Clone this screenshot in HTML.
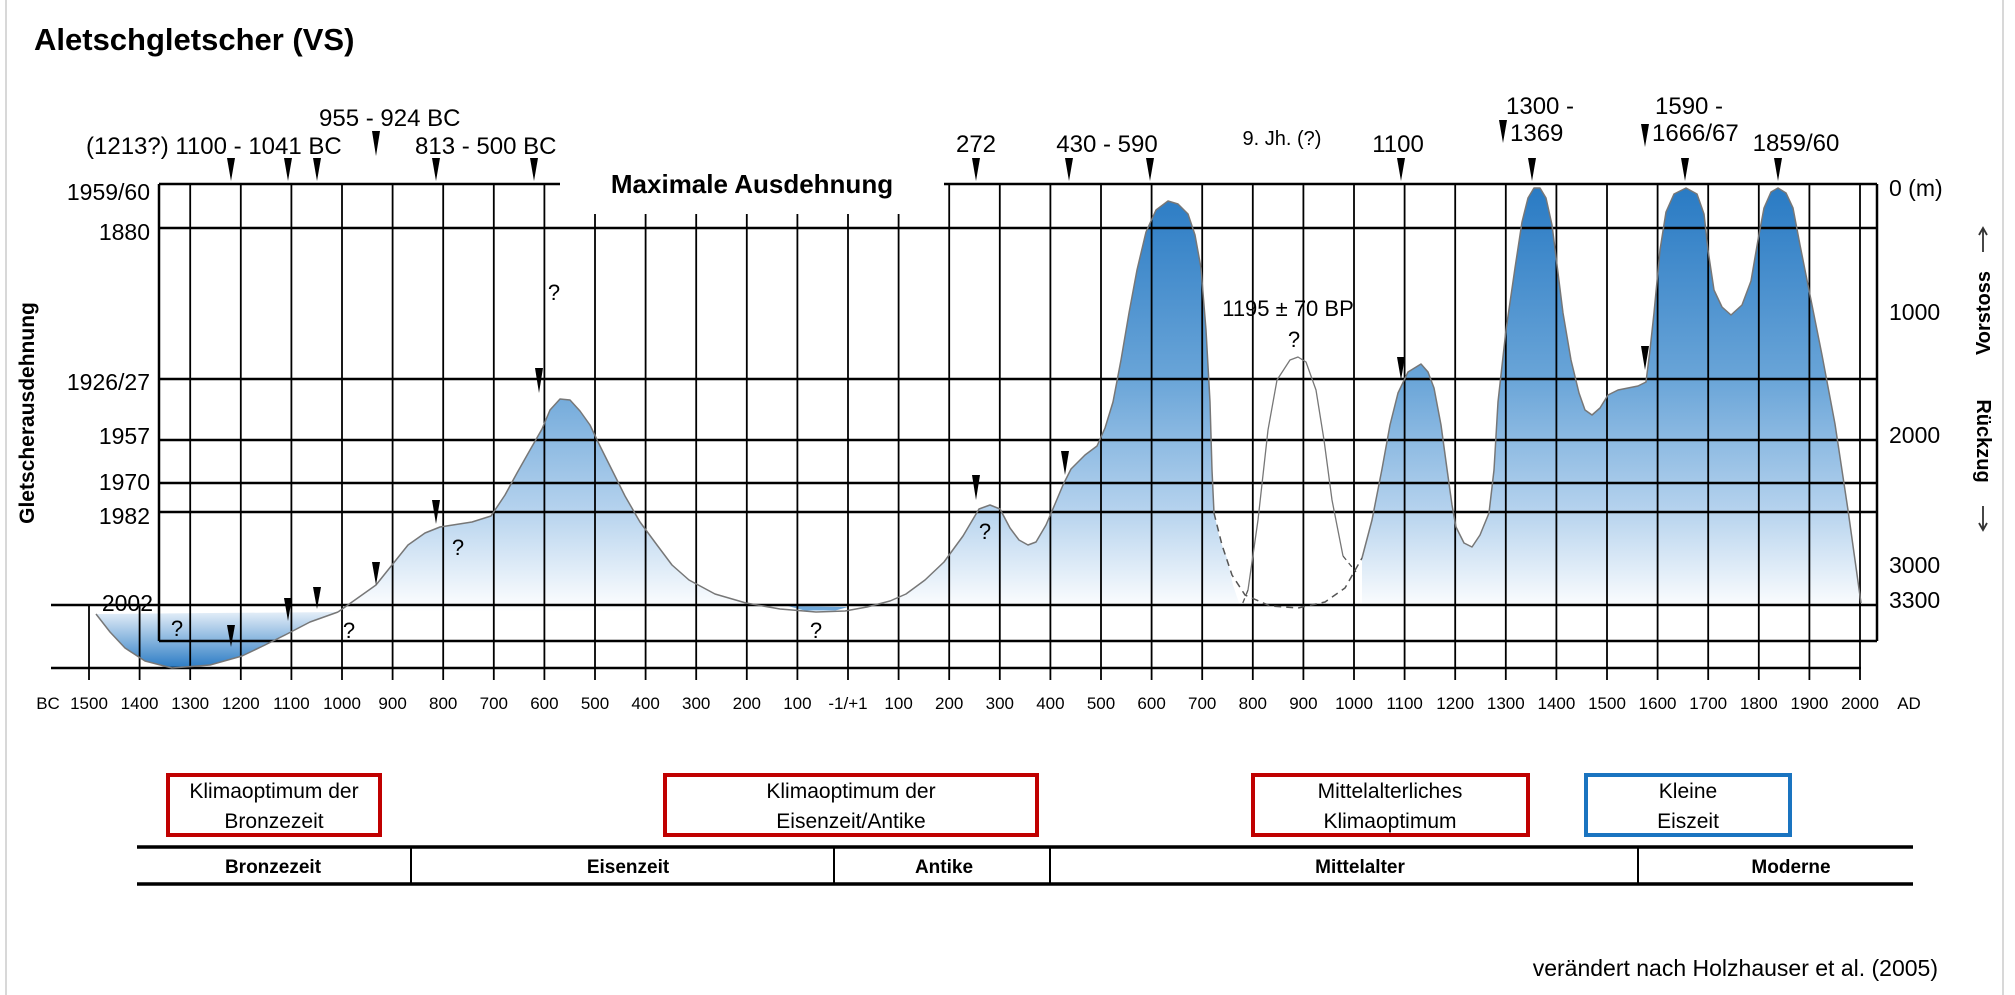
<!DOCTYPE html>
<html><head><meta charset="utf-8"><style>
html,body{margin:0;padding:0;background:#fff;}
svg{display:block;}
text{font-family:"Liberation Sans",Arial,sans-serif;fill:#000;}
</style></head><body>
<svg width="2015" height="995" viewBox="0 0 2015 995" xmlns="http://www.w3.org/2000/svg">
<defs>
<linearGradient id="g" gradientUnits="userSpaceOnUse" x1="0" y1="190" x2="0" y2="612">
<stop offset="0" stop-color="#2a7bc4"/>
<stop offset="0.45" stop-color="#6aa5d8"/>
<stop offset="0.75" stop-color="#b3d1ed"/>
<stop offset="1" stop-color="#ffffff"/>
</linearGradient>
<linearGradient id="g2" gradientUnits="userSpaceOnUse" x1="0" y1="612" x2="0" y2="668">
<stop offset="0" stop-color="#e4eef8"/>
<stop offset="1" stop-color="#2a7bc4"/>
</linearGradient>
</defs>
<line x1="6" y1="0" x2="6" y2="995" stroke="#ccc" stroke-width="1.5"/>
<line x1="2003" y1="0" x2="2003" y2="995" stroke="#ccc" stroke-width="1.5"/>

<text x="34" y="50" font-size="31" font-weight="bold">Aletschgletscher (VS)</text>

<path d="M96,614 L110,632 L125,648 L145,661 L172,668 L210,665 L242,656 L265,645 L287,634 L310,622 L338,612 Z" fill="url(#g2)"/>
<path d="M788,606 L810,612 L830,612 L848,607 Z" fill="#6fa8da"/>
<path d="M338,612 L376,585 L392,565 L408,545 L425,533 L440,527 L472,522 L491,516 L505,495 L517,473 L530,450 L542,429 L550,410 L560,399 L570,400 L580,411 L590,425 L600,446 L612,470 L625,496 L640,522 L657,545 L672,565 L689,580 L715,594 L746,603 L780,609 L816,612 L845,611 L867,607 L890,601 L906,594 L925,580 L944,562 L963,536 L979,509 L990,505 L1000,509 L1010,528 L1019,540 L1028,545 L1036,542 L1046,525 L1055,504 L1063,485 L1071,469 L1085,455 L1097,446 L1105,428 L1113,402 L1121,360 L1129,313 L1137,270 L1146,232 L1156,210 L1168,201 L1178,204 L1188,214 L1195,235 L1201,268 L1206,330 L1210,402 L1212,470 L1214,513 L1220,540 L1227,558 L1233,585 L1239,603 L1362,603 L1362,558 L1372,520 L1382,469 L1390,425 L1398,393 L1408,372 L1421,364 L1428,372 L1434,388 L1441,425 L1447,469 L1452,505 L1456,527 L1464,543 L1472,547 L1480,535 L1489,513 L1494,470 L1498,402 L1506,330 L1515,268 L1522,222 L1528,198 L1534,188 L1540,188 L1546,198 L1552,225 L1563,313 L1571,360 L1579,393 L1585,410 L1592,415 L1600,408 L1608,395 L1618,390 L1628,388 L1638,386 L1646,382 L1650,350 L1654,313 L1660,250 L1666,212 L1674,194 L1686,188 L1697,194 L1704,214 L1708,250 L1714,290 L1722,307 L1731,315 L1742,305 L1751,281 L1758,240 L1764,208 L1771,192 L1778,188 L1786,193 L1793,208 L1800,245 L1809,290 L1822,355 L1835,424 L1848,510 L1861,603 L1861,607 L338,612 Z" fill="url(#g)"/>

<g stroke="#000" stroke-width="2.5">
<line x1="159" y1="184" x2="560" y2="184"/><line x1="944" y1="184" x2="1877" y2="184"/>
<line x1="159" y1="228" x2="1877" y2="228"/>
<line x1="159" y1="379" x2="1877" y2="379"/>
<line x1="159" y1="440" x2="1877" y2="440"/>
<line x1="159" y1="483" x2="1877" y2="483"/>
<line x1="159" y1="512" x2="1877" y2="512"/>
<line x1="51" y1="605" x2="1877" y2="605"/>
<line x1="159" y1="641" x2="1877" y2="641"/>
<line x1="51" y1="668" x2="1861" y2="668"/>
<line x1="159" y1="184" x2="159" y2="641"/>
<line x1="1877" y1="184" x2="1877" y2="641"/>
</g>
<g stroke="#000" stroke-width="1.8">
<line x1="89" y1="605" x2="89" y2="680"/>
<line x1="139.6" y1="605" x2="139.6" y2="680"/>
<line x1="190.2" y1="184" x2="190.2" y2="680"/>
<line x1="240.8" y1="184" x2="240.8" y2="680"/>
<line x1="291.4" y1="184" x2="291.4" y2="680"/>
<line x1="342" y1="184" x2="342" y2="680"/>
<line x1="392.6" y1="184" x2="392.6" y2="680"/>
<line x1="443.2" y1="184" x2="443.2" y2="680"/>
<line x1="493.8" y1="184" x2="493.8" y2="680"/>
<line x1="544.4" y1="184" x2="544.4" y2="680"/>
<line x1="595" y1="214" x2="595" y2="680"/>
<line x1="645.6" y1="214" x2="645.6" y2="680"/>
<line x1="696.2" y1="214" x2="696.2" y2="680"/>
<line x1="746.8" y1="214" x2="746.8" y2="680"/>
<line x1="797.4" y1="214" x2="797.4" y2="680"/>
<line x1="848" y1="214" x2="848" y2="680"/>
<line x1="898.6" y1="214" x2="898.6" y2="680"/>
<line x1="949.2" y1="184" x2="949.2" y2="680"/>
<line x1="999.8" y1="184" x2="999.8" y2="680"/>
<line x1="1050.4" y1="184" x2="1050.4" y2="680"/>
<line x1="1101" y1="184" x2="1101" y2="680"/>
<line x1="1151.6" y1="184" x2="1151.6" y2="680"/>
<line x1="1202.2" y1="184" x2="1202.2" y2="680"/>
<line x1="1252.8" y1="184" x2="1252.8" y2="680"/>
<line x1="1303.4" y1="184" x2="1303.4" y2="680"/>
<line x1="1354" y1="184" x2="1354" y2="680"/>
<line x1="1404.6" y1="184" x2="1404.6" y2="680"/>
<line x1="1455.2" y1="184" x2="1455.2" y2="680"/>
<line x1="1505.8" y1="184" x2="1505.8" y2="680"/>
<line x1="1556.4" y1="184" x2="1556.4" y2="680"/>
<line x1="1607" y1="184" x2="1607" y2="680"/>
<line x1="1657.6" y1="184" x2="1657.6" y2="680"/>
<line x1="1708.2" y1="184" x2="1708.2" y2="680"/>
<line x1="1758.8" y1="184" x2="1758.8" y2="680"/>
<line x1="1809.4" y1="184" x2="1809.4" y2="680"/>
<line x1="1860" y1="184" x2="1860" y2="680"/>
</g>

<g fill="none" stroke="#777" stroke-width="1.5" stroke-linejoin="round">
<path d="M96,614 L110,632 L125,648 L145,661 L172,668 L210,665 L242,656 L265,645 L287,634 L310,622 L338,612"/>
<path d="M338,612 L376,585 L392,565 L408,545 L425,533 L440,527 L472,522 L491,516 L505,495 L517,473 L530,450 L542,429 L550,410 L560,399 L570,400 L580,411 L590,425 L600,446 L612,470 L625,496 L640,522 L657,545 L672,565 L689,580 L715,594 L746,603 L780,609 L816,612 L845,611 L867,607 L890,601 L906,594 L925,580 L944,562 L963,536 L979,509 L990,505 L1000,509 L1010,528 L1019,540 L1028,545 L1036,542 L1046,525 L1055,504 L1063,485 L1071,469 L1085,455 L1097,446 L1105,428 L1113,402 L1121,360 L1129,313 L1137,270 L1146,232 L1156,210 L1168,201 L1178,204 L1188,214 L1195,235 L1201,268 L1206,330 L1210,402 L1212,470 L1214,513"/>
<path d="M1362,558 L1372,520 L1382,469 L1390,425 L1398,393 L1408,372 L1421,364 L1428,372 L1434,388 L1441,425 L1447,469 L1452,505 L1456,527 L1464,543 L1472,547 L1480,535 L1489,513 L1494,470 L1498,402 L1506,330 L1515,268 L1522,222 L1528,198 L1534,188 L1540,188 L1546,198 L1552,225 L1563,313 L1571,360 L1579,393 L1585,410 L1592,415 L1600,408 L1608,395 L1618,390 L1628,388 L1638,386 L1646,382 L1650,350 L1654,313 L1660,250 L1666,212 L1674,194 L1686,188 L1697,194 L1704,214 L1708,250 L1714,290 L1722,307 L1731,315 L1742,305 L1751,281 L1758,240 L1764,208 L1771,192 L1778,188 L1786,193 L1793,208 L1800,245 L1809,290 L1822,355 L1835,424 L1848,510 L1861,603"/>
<path d="M1248,590 L1258,520 L1268,430 L1277,380 L1290,360 L1298,357 L1306,362 L1316,390 L1324,440 L1332,500 L1343,556" stroke-width="1.3"/>
</g>
<path d="M1214,513 L1222,545 L1232,575 L1245,595 L1270,606 L1298,608 L1325,602 L1345,588 L1362,558" fill="none" stroke="#555" stroke-width="1.5" stroke-dasharray="7,5"/>
<path d="M1248,590 L1242,605 M1343,556 L1356,572" fill="none" stroke="#555" stroke-width="1.3" stroke-dasharray="5,4"/>

<g fill="#000">
<path d="M227,158 L235,158 L231,181 Z"/><path d="M284,158 L292,158 L288,181 Z"/><path d="M313,158 L321,158 L317,181 Z"/>
<path d="M372,131 L380,131 L376,156 Z"/><path d="M432,158 L440,158 L436,181 Z"/><path d="M530,158 L538,158 L534,181 Z"/>
<path d="M972,158 L980,158 L976,181 Z"/><path d="M1065,158 L1073,158 L1069,181 Z"/><path d="M1146,158 L1154,158 L1150,181 Z"/>
<path d="M1397,158 L1405,158 L1401,181 Z"/><path d="M1499,120 L1507,120 L1503,143 Z"/><path d="M1528,158 L1536,158 L1532,181 Z"/>
<path d="M1641,124 L1649,124 L1645,147 Z"/><path d="M1681,158 L1689,158 L1685,181 Z"/><path d="M1774,158 L1782,158 L1778,181 Z"/>
<path d="M227,625 L235,625 L231,647 Z"/><path d="M284,598 L292,598 L288,621 Z"/><path d="M313,587 L321,587 L317,609 Z"/>
<path d="M372,562 L380,562 L376,585 Z"/><path d="M432,500 L440,500 L436,524 Z"/><path d="M535,368 L543,368 L539,393 Z"/>
<path d="M972,475 L980,475 L976,500 Z"/><path d="M1061,451 L1069,451 L1065,475 Z"/><path d="M1397,357 L1405,357 L1401,380 Z"/>
<path d="M1641,346 L1649,346 L1645,370 Z"/>
</g>

<g font-size="24">
<text x="86" y="154">(1213?) 1100 - 1041 BC</text>
<text x="319" y="126">955 - 924 BC</text>
<text x="415" y="154">813 - 500 BC</text>
<text x="976" y="152" text-anchor="middle">272</text>
<text x="1107" y="152" text-anchor="middle">430 - 590</text>
<text x="1398" y="152" text-anchor="middle">1100</text>
<text x="1506" y="114">1300 -</text>
<text x="1510" y="141">1369</text>
<text x="1655" y="114">1590 -</text>
<text x="1652" y="141">1666/67</text>
<text x="1796" y="151" text-anchor="middle">1859/60</text>
</g>
<text x="1282" y="145" font-size="20" text-anchor="middle">9. Jh. (?)</text>
<text x="752" y="193" font-size="26" font-weight="bold" text-anchor="middle">Maximale Ausdehnung</text>
<text x="1288" y="316" font-size="22" text-anchor="middle">1195 ± 70 BP</text>

<g font-size="22" text-anchor="middle">
<text x="177" y="636">?</text><text x="349" y="638">?</text><text x="458" y="555">?</text>
<text x="554" y="300">?</text><text x="816" y="638">?</text><text x="985" y="539">?</text>
<text x="1294" y="347">?</text>
</g>

<g font-size="23" text-anchor="end">
<text x="150" y="200">1959/60</text>
<text x="150" y="240">1880</text>
<text x="150" y="390">1926/27</text>
<text x="150" y="444">1957</text>
<text x="150" y="490">1970</text>
<text x="150" y="524">1982</text>
<text x="153" y="611">2002</text>
</g>
<g font-size="23">
<text x="1889" y="196">0 (m)</text>
<text x="1889" y="320">1000</text>
<text x="1889" y="443">2000</text>
<text x="1889" y="573">3000</text>
<text x="1889" y="608">3300</text>
</g>
<text transform="translate(34,413) rotate(-90)" font-size="21" font-weight="bold" text-anchor="middle">Gletscherausdehnung</text>
<text transform="translate(1990,313) rotate(-90)" font-size="20" font-weight="bold" text-anchor="middle">Vorstoss</text>
<text transform="translate(1977,441) rotate(90)" font-size="20" font-weight="bold" text-anchor="middle">Rückzug</text>
<g stroke="#333" stroke-width="1.8" fill="none">
<line x1="1983" y1="229" x2="1983" y2="252"/>
<path d="M1979,235 L1983,228 L1987,235"/>
<line x1="1983" y1="506" x2="1983" y2="529"/>
<path d="M1979,523 L1983,530 L1987,523"/>
</g>

<g font-size="17" text-anchor="middle">
<text x="48" y="709">BC</text>
<text x="89" y="709">1500</text><text x="139.6" y="709">1400</text><text x="190.2" y="709">1300</text><text x="240.8" y="709">1200</text>
<text x="291.4" y="709">1100</text><text x="342" y="709">1000</text><text x="392.6" y="709">900</text><text x="443.2" y="709">800</text>
<text x="493.8" y="709">700</text><text x="544.4" y="709">600</text><text x="595" y="709">500</text><text x="645.6" y="709">400</text>
<text x="696.2" y="709">300</text><text x="746.8" y="709">200</text><text x="797.4" y="709">100</text><text x="848" y="709">-1/+1</text>
<text x="898.6" y="709">100</text><text x="949.2" y="709">200</text><text x="999.8" y="709">300</text><text x="1050.4" y="709">400</text>
<text x="1101" y="709">500</text><text x="1151.6" y="709">600</text><text x="1202.2" y="709">700</text><text x="1252.8" y="709">800</text>
<text x="1303.4" y="709">900</text><text x="1354" y="709">1000</text><text x="1404.6" y="709">1100</text><text x="1455.2" y="709">1200</text>
<text x="1505.8" y="709">1300</text><text x="1556.4" y="709">1400</text><text x="1607" y="709">1500</text><text x="1657.6" y="709">1600</text>
<text x="1708.2" y="709">1700</text><text x="1758.8" y="709">1800</text><text x="1809.4" y="709">1900</text><text x="1860" y="709">2000</text>
<text x="1909" y="709">AD</text>
</g>

<g fill="none" stroke-width="4">
<rect x="168" y="775" width="212" height="60" stroke="#c00000"/>
<rect x="665" y="775" width="372" height="60" stroke="#c00000"/>
<rect x="1253" y="775" width="275" height="60" stroke="#c00000"/>
<rect x="1586" y="775" width="204" height="60" stroke="#1a74c0"/>
</g>
<g font-size="21" text-anchor="middle">
<text x="274" y="798">Klimaoptimum der</text><text x="274" y="828">Bronzezeit</text>
<text x="851" y="798">Klimaoptimum der</text><text x="851" y="828">Eisenzeit/Antike</text>
<text x="1390" y="798">Mittelalterliches</text><text x="1390" y="828">Klimaoptimum</text>
<text x="1688" y="798">Kleine</text><text x="1688" y="828">Eiszeit</text>
</g>

<g stroke="#000">
<line x1="137" y1="847" x2="1913" y2="847" stroke-width="3.5"/>
<line x1="137" y1="884" x2="1913" y2="884" stroke-width="3.5"/>
<line x1="411" y1="847" x2="411" y2="884" stroke-width="2"/>
<line x1="834" y1="847" x2="834" y2="884" stroke-width="2"/>
<line x1="1050" y1="847" x2="1050" y2="884" stroke-width="2"/>
<line x1="1638" y1="847" x2="1638" y2="884" stroke-width="2"/>
</g>
<g font-size="19" font-weight="bold" text-anchor="middle">
<text x="273" y="873">Bronzezeit</text>
<text x="628" y="873">Eisenzeit</text>
<text x="944" y="873">Antike</text>
<text x="1360" y="873">Mittelalter</text>
<text x="1791" y="873">Moderne</text>
</g>

<text x="1938" y="976" font-size="23" text-anchor="end">verändert nach Holzhauser et al. (2005)</text>
</svg>
</body></html>
